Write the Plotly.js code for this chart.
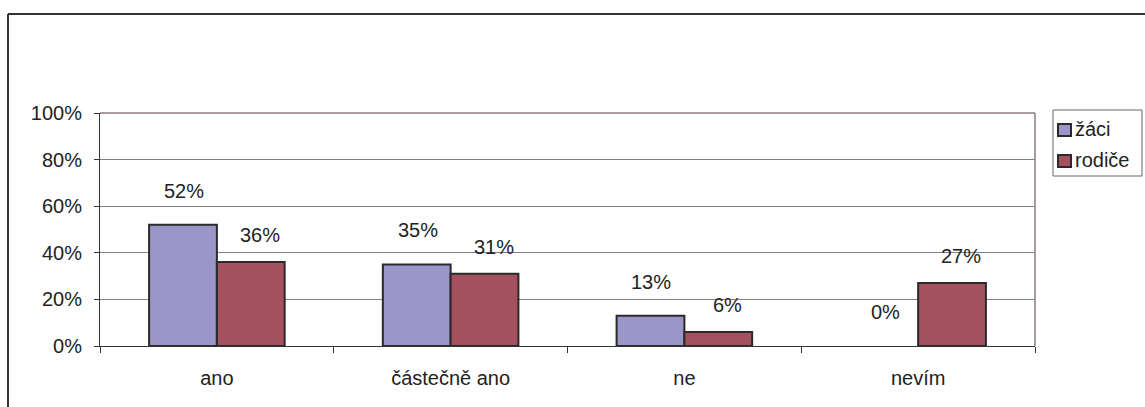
<!DOCTYPE html>
<html><head><meta charset="utf-8">
<script src="https://cdn.plot.ly/plotly-3.0.1.min.js"></script>
<style>html,body{margin:0;padding:0;background:#fff}#chart{width:1145px;height:407px}</style>
</head><body><div id="chart"></div>
<script>
const categories = ["ano", "částečně ano", "ne", "nevím"];
const seriesNames = ["žáci", "rodiče"];
const zaci = [0.52, 0.35, 0.13, 0.00];
const rodice = [0.36, 0.31, 0.06, 0.27];
const yTicks = [0, 0.2, 0.4, 0.6, 0.8, 1.0];
const yTickLabels = ["0%", "20%", "40%", "60%", "80%", "100%"];
const seriesColors = ["#9b95c9", "#a5505f"];

const font = {family: "Liberation Sans, Arial, sans-serif", size: 20, color: "#222"};
const outlineFor = vals => ({color: "#2a2a2a", width: vals.map(v => v > 0 ? 2 : 0)});

const traces = [
  {type: "bar", name: seriesNames[0], x: categories, y: zaci,
   marker: {color: seriesColors[0], line: outlineFor(zaci)}, hoverinfo: "skip", showlegend: false},
  {type: "bar", name: seriesNames[1], x: categories, y: rodice,
   marker: {color: seriesColors[1], line: outlineFor(rodice)}, hoverinfo: "skip", showlegend: false}
];

const L = 100, R = 1035, T = 113, B = 346, W = 1145, H = 407;
const pw = R - L, ph = B - T;
const px = v => (v - L) / pw, py = v => (B - v) / ph;

const labelXShift = [-33, 43];
const labelYShift = [34, 27];
const annotations = [];
[zaci, rodice].forEach((vals, si) => {
  vals.forEach((v, i) => {
    annotations.push({x: categories[i], y: v, xref: "x", yref: "y",
      text: Math.round(v * 100) + "%", showarrow: false,
      xshift: labelXShift[si], yshift: labelYShift[si], font: font});
  });
});

// manual legend (Excel-style compact legend)
const shapes = [
  {type: "line", xref: "paper", yref: "paper", x0: px(8), x1: px(1146), y0: py(14), y1: py(14),
   line: {color: "#333", width: 2}},
  {type: "line", xref: "paper", yref: "paper", x0: px(8), x1: px(8), y0: py(14), y1: py(410),
   line: {color: "#333", width: 2}},
  {type: "line", xref: "paper", yref: "paper", x0: 0, x1: 1, y0: 1, y1: 1,
   line: {color: "#8c7c7c", width: 1.5}},
  {type: "line", xref: "paper", yref: "paper", x0: 1, x1: 1, y0: 0, y1: 1,
   line: {color: "#8c7c7c", width: 1.5}},
  {type: "rect", xref: "paper", yref: "paper", x0: px(1053), x1: px(1142), y0: py(176), y1: py(110),
   line: {color: "#666", width: 1}}
];
const legendRows = [130, 161];
seriesNames.forEach((name, si) => {
  const cy = legendRows[si];
  shapes.push({type: "rect", xref: "paper", yref: "paper",
    x0: px(1058), x1: px(1071), y0: py(cy + 6), y1: py(cy - 6),
    fillcolor: seriesColors[si], line: {color: "#2a2a2a", width: 2}});
  annotations.push({xref: "paper", yref: "paper", x: px(1073), y: py(cy - 1),
    xanchor: "left", yanchor: "middle", text: name, showarrow: false, font: font});
});

const layout = {
  width: W, height: H,
  margin: {l: L, r: W - R, t: T, b: H - B, pad: 0, autoexpand: false},
  paper_bgcolor: "#fff", plot_bgcolor: "#fff",
  font: font,
  barmode: "group", bargap: 0.42, bargroupgap: 0,
  showlegend: false,
  xaxis: {type: "category", showgrid: false, showline: true, linecolor: "#333", linewidth: 1,
    ticks: "outside", tickson: "boundaries", ticklen: 6, tickcolor: "#333",
    ticklabelstandoff: 14, tickfont: font, fixedrange: true},
  yaxis: {range: [0, 1], tickvals: yTicks, ticktext: yTickLabels,
    showgrid: true, gridcolor: "#808080", gridwidth: 1, zeroline: false,
    showline: true, linecolor: "#333", linewidth: 1, ticks: "outside", ticklen: 5, tickcolor: "#333",
    ticklabelstandoff: 8, tickfont: font, fixedrange: true},
  annotations: annotations,
  shapes: shapes
};

Plotly.newPlot("chart", traces, layout, {displayModeBar: false, staticPlot: true});
</script></body></html>
